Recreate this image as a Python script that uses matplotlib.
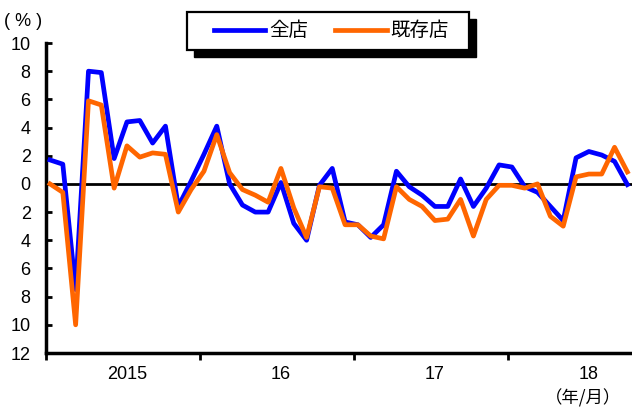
import matplotlib
matplotlib.use('Agg')
import matplotlib.pyplot as plt
from matplotlib.patches import Rectangle
from matplotlib.ticker import FuncFormatter
import numpy as np

plt.rcParams['font.family'] = ['Liberation Sans', 'Noto Sans CJK JP', 'DejaVu Sans']

# 月次データ 2015年1月〜2018年10月
months = [f'{y}-{m:02d}' for y in range(2015, 2019) for m in range(1, 13)][:46]
all_stores = [1.7, 1.4, -7.5, 8.0, 7.9, 1.8, 4.4, 4.5, 2.9, 4.1, -1.6, 0.2,
              2.1, 4.1, 0.0, -1.5, -2.0, -2.0, 0.1, -2.8, -4.0, -0.1, 1.1, -2.7,
              -2.9, -3.8, -2.9, 0.9, -0.2, -0.8, -1.6, -1.6, 0.35, -1.6, -0.3, 1.35,
              1.2, -0.2, -0.6, -1.6, -2.6, 1.85, 2.3, 2.05, 1.6, -0.05]
existing_stores = [0.0, -0.6, -10.0, 5.9, 5.6, -0.3, 2.7, 1.9, 2.2, 2.1, -2.0, -0.4,
                   0.9, 3.5, 0.8, -0.4, -0.8, -1.3, 1.1, -1.7, -3.8, -0.2, -0.3, -2.9,
                   -2.9, -3.7, -3.9, -0.2, -1.1, -1.6, -2.6, -2.5, -1.1, -3.7, -1.1, -0.1,
                   -0.1, -0.3, 0.0, -2.3, -3.0, 0.5, 0.7, 0.7, 2.6, 0.85]
year_labels = ['2015', '16', '17', '18']

x = np.arange(len(months))
cjk = ['Noto Sans CJK JP', 'DejaVu Sans']

fig = plt.figure(figsize=(6.32, 4.12), dpi=100)
ax = fig.add_axes([46/632, 1-353/412, 1-46/632, (353-43)/412])

ax.axhline(0, color='black', linewidth=2, zorder=1)
ax.plot(x, all_stores, color='#0000FF', linewidth=3.4, label='全店', zorder=3)
ax.plot(x, existing_stores, color='#FF6600', linewidth=3.4, label='既存店', zorder=4)

ax.set_ylim(-12, 10)
ax.set_xlim(-0.31, 45.36)
ax.set_yticks(range(-12, 11, 2))
ax.yaxis.set_major_formatter(FuncFormatter(lambda v, p: f'{abs(int(v))}'))

# 年の区切り
ax.set_xticks([-0.31 + 12*k for k in range(4)])
ax.set_xticklabels([])
for k, lab in enumerate(year_labels):
    ax.text(6 + 12*k, -13.55, lab, ha='center', va='center', fontsize=13)
ax.text(44.5, -15.2, '（年/月）', ha='right', va='center', fontsize=12.5, family=cjk)
fig.text(23/632, 1-22/412, '( % )', ha='center', va='center', fontsize=13)

ax.tick_params(axis='y', direction='in', length=4, width=2, labelsize=13, pad=11)
ax.tick_params(axis='x', direction='out', length=5, width=2)
for s in ['top', 'right']:
    ax.spines[s].set_visible(False)
for s in ['left', 'bottom']:
    ax.spines[s].set_linewidth(2.5)

# 凡例（影付きの枠）
fig.add_artist(Rectangle((194/632, 1-57/412), 282/632, 38/412, transform=fig.transFigure,
                         facecolor='black', edgecolor='black', zorder=5))
fig.add_artist(Rectangle((187/632, 1-50/412), 282/632, 38/412, transform=fig.transFigure,
                         facecolor='white', edgecolor='black', linewidth=1.6, zorder=6))
leg = ax.legend(loc='center', bbox_to_anchor=(331.5/632, 1-31/412),
                bbox_transform=fig.transFigure, ncol=2, frameon=False,
                handlelength=2.63, handletextpad=0.2, columnspacing=1.4,
                prop={'family': cjk, 'size': 14})
leg.set_zorder(7)
fig.add_artist(leg)

plt.savefig('out.png', dpi=100)
